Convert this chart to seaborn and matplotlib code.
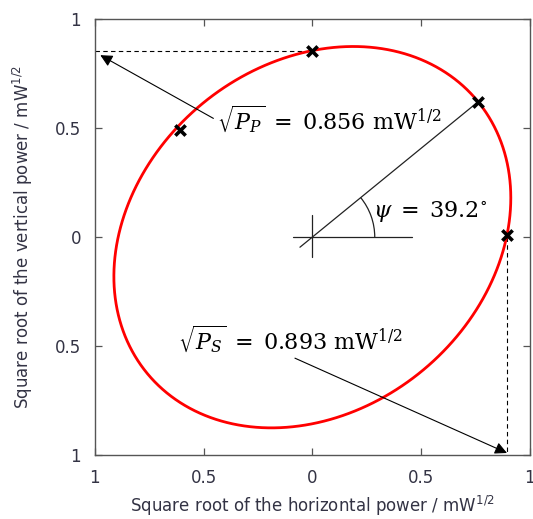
import numpy as np
import pandas as pd
import seaborn as sns
import matplotlib
matplotlib.use("Agg")
import matplotlib.pyplot as plt
from matplotlib.patches import Arc
from matplotlib.ticker import FuncFormatter

# values
sqrt_pp = 0.856   # y-intercept of the ellipse, mW^1/2
sqrt_ps = 0.893   # x-intercept of the ellipse, mW^1/2
psi_deg = 39.2    # azimuth of the major axis

marker_x = [0.0, -0.61, 0.762, 0.893]
marker_y = [0.856, 0.49, 0.621, 0.01]

ticks = [-1, -0.5, 0, 0.5, 1]

sns.set_style("ticks")
plt.rcParams["font.family"] = ["DejaVu Sans"]
plt.rcParams["mathtext.fontset"] = "dejavuserif"

# ellipse from the two intercepts and the tilt angle
psi = np.deg2rad(psi_deg)
c2, s2 = np.cos(psi) ** 2, np.sin(psi) ** 2
ix, iy = 1 / sqrt_ps ** 2, 1 / sqrt_pp ** 2
A = (c2 * ix - s2 * iy) / (c2 - s2)
B = ix + iy - A
semi_a, semi_b = 1 / np.sqrt(A), 1 / np.sqrt(B)
t = np.linspace(0, 2 * np.pi, 400)
ell = pd.DataFrame({
    "x": semi_a * np.cos(psi) * np.cos(t) - semi_b * np.sin(psi) * np.sin(t),
    "y": semi_a * np.sin(psi) * np.cos(t) + semi_b * np.cos(psi) * np.sin(t),
})
pts = pd.DataFrame({"x": marker_x, "y": marker_y})

fig = plt.figure(figsize=(5.33, 5.19), dpi=100)
ax = fig.add_axes([0.178, 0.123, 0.816, 0.840])

sns.lineplot(data=ell, x="x", y="y", sort=False, color="#ff0000", lw=2, ax=ax, zorder=3)
sns.scatterplot(data=pts, x="x", y="y", marker="x", s=55, color="black",
                linewidth=2.6, ax=ax, zorder=5)

# dashed projections
ax.plot([-1, marker_x[0]], [sqrt_pp, sqrt_pp], ls=(0, (4, 3)), color="black", lw=0.8)
ax.plot([sqrt_ps, sqrt_ps], [0, -1], ls=(0, (4, 3)), color="black", lw=0.8)

# centre cross, major axis and angle arc
ax.plot([-0.09, 0.457], [0, 0], color="#222222", lw=0.9)
ax.plot([0, 0], [-0.09, 0.10], color="#222222", lw=0.9)
ax.plot([-0.057, marker_x[2]], [-0.046, marker_y[2]], color="#222222", lw=0.9)
ax.add_patch(Arc((0, 0), 0.574, 0.574, theta1=0, theta2=psi_deg, color="#222222", lw=0.9))

mt = dict(fontsize=16, color="black", va="center")
ax.text(-0.44, 0.54, r"$\sqrt{P_P}\; =\; 0.856\ \mathrm{mW}^{1/2}$", ha="left", **mt)
ax.text(0.28, 0.12, r"$\psi\; =\; 39.2^{\circ}$", ha="left", **mt)
ax.text(-0.62, -0.468, r"$\sqrt{P_S}\; =\; 0.893\ \mathrm{mW}^{1/2}$", ha="left", **mt)

arr = dict(arrowstyle="-|>", color="black", lw=0.8, mutation_scale=18, shrinkA=0, shrinkB=0)
ax.annotate("", xy=(-0.975, 0.835), xytext=(-0.455, 0.545), arrowprops=arr)
ax.annotate("", xy=(0.895, -0.99), xytext=(-0.08, -0.555), arrowprops=arr)

ax.set_xlim(-1, 1)
ax.set_ylim(-1, 1)
ax.set_xticks(ticks)
ax.set_yticks(ticks)
fmt = FuncFormatter(lambda v, p: "0" if v == 0 else f"{abs(v):g}")
ax.xaxis.set_major_formatter(fmt)
ax.yaxis.set_major_formatter(fmt)
ax.tick_params(direction="in", length=5, width=0.9, top=True, right=True,
               labelsize=12, labelcolor="#333344", color="#555555", pad=10)
for sp in ax.spines.values():
    sp.set_color("#555555")
    sp.set_linewidth(1.0)

ax.set_xlabel(r"Square root of the horizontal power / mW$\mathregular{^{1/2}}$",
              fontsize=12, color="#333344", labelpad=5)
ax.set_ylabel(r"Square root of the vertical power / mW$\mathregular{^{1/2}}$",
              fontsize=12, color="#333344", labelpad=14)

fig.savefig("out.png", dpi=100)
